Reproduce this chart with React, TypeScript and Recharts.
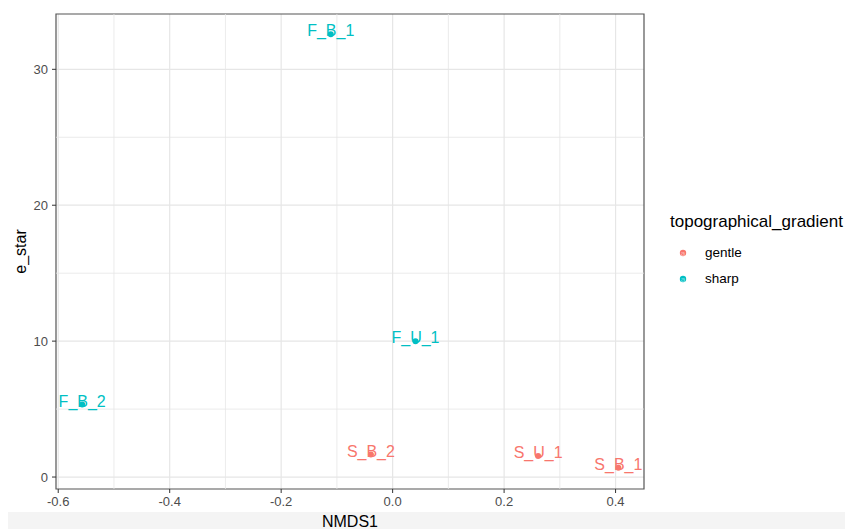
import { ScatterChart, Scatter, XAxis, YAxis, CartesianGrid, ReferenceLine, ReferenceArea } from 'recharts'

// ─── Data ─────────────────────────────────────────────────────────────────────

const GENTLE_LABELS = ['S_B_2', 'S_U_1', 'S_B_1']
const GENTLE_X      = [-0.039, 0.261, 0.405]
const GENTLE_Y      = [1.65, 1.55, 0.69]

const SHARP_LABELS  = ['F_B_1', 'F_U_1', 'F_B_2']
const SHARP_X       = [-0.111, 0.041, -0.557]
const SHARP_Y       = [32.58, 10.0, 5.33]

const X_TICKS       = [-0.6, -0.4, -0.2, 0, 0.2, 0.4]
const X_MINOR       = [-0.5, -0.3, -0.1, 0.1, 0.3]
const Y_TICKS       = [0, 10, 20, 30]
const Y_MINOR       = [5, 15, 25]

const X_DOMAIN: [number, number] = [-0.604, 0.451]
const Y_DOMAIN: [number, number] = [-0.88, 34.07]

const GENTLE_COLOR = '#F8766D'
const SHARP_COLOR  = '#00BFC4'
const GRID         = '#E6E6E6'
const FONT         = '"Liberation Sans", Arial, sans-serif'

const gentle = GENTLE_LABELS.map((label, i) => ({ label, x: GENTLE_X[i], y: GENTLE_Y[i] }))
const sharp  = SHARP_LABELS.map((label, i) => ({ label, x: SHARP_X[i], y: SHARP_Y[i] }))

const LEGEND_ITEMS = [
  { name: 'gentle', color: GENTLE_COLOR },
  { name: 'sharp', color: SHARP_COLOR },
]

// ─── Pieces ───────────────────────────────────────────────────────────────────

const makeShape = (color: string) => (props: any) => {
  const { cx, cy, payload } = props
  return (
    <g>
      <circle cx={cx} cy={cy} r={3} fill={color} />
      <text x={cx} y={cy + 2} textAnchor="middle" fill={color} fontSize={16} fontFamily={FONT}>
        {payload.label}
      </text>
    </g>
  )
}

const LegendBox = () => (
  <div style={{ position: 'absolute', left: 670, top: 212, fontFamily: FONT, color: '#000' }}>
    <div style={{ fontSize: 17, lineHeight: '20px', marginBottom: 7, whiteSpace: 'nowrap' }}>topographical_gradient</div>
    {LEGEND_ITEMS.map(item => (
      <div key={item.name} style={{ display: 'flex', alignItems: 'center', height: 26 }}>
        <svg width={35} height={20}>
          <circle cx={13} cy={11} r={3.2} fill={item.color} />
          <text x={13} y={13.5} textAnchor="middle" fontSize={8} fill="#ffffff" fillOpacity={0.5} fontFamily={FONT}>a</text>
        </svg>
        <span style={{ fontSize: 13.5 }}>{item.name}</span>
      </div>
    ))}
  </div>
)

const tickStyle = { fill: '#4D4D4D', fontSize: 13, fontFamily: FONT }

export default function App() {
  return (
    <div style={{ position: 'absolute', left: 0, top: 0, width: 845, height: 529, background: '#fff' }}>
      <div style={{ position: 'absolute', left: 8, top: 512, width: 837, height: 17, background: '#F4F4F4' }} />
      <div style={{ position: 'absolute', left: 0, top: 0 }}>
        <ScatterChart width={845} height={529} margin={{ top: 14, right: 201, left: 0, bottom: 0 }}>
          <CartesianGrid stroke={GRID} strokeWidth={1.2} horizontalValues={Y_TICKS} verticalValues={X_TICKS} />
          {X_MINOR.map(v => (
            <ReferenceLine key={'x' + v} x={v} stroke={GRID} strokeWidth={0.8} />
          ))}
          {Y_MINOR.map(v => (
            <ReferenceLine key={'y' + v} y={v} stroke={GRID} strokeWidth={0.8} />
          ))}
          <XAxis
            type="number"
            dataKey="x"
            domain={X_DOMAIN}
            ticks={X_TICKS}
            allowDataOverflow
            height={40}
            tick={tickStyle}
            tickFormatter={(v: number) => v.toFixed(1)}
            tickSize={4}
            tickMargin={4}
            stroke="#333333"
            axisLine={false}
            label={{ value: 'NMDS1', position: 'insideBottom', offset: 2, fill: '#000', fontSize: 16, fontFamily: FONT }}
          />
          <YAxis
            type="number"
            dataKey="y"
            domain={Y_DOMAIN}
            ticks={Y_TICKS}
            allowDataOverflow
            width={56}
            tick={tickStyle}
            tickSize={4}
            tickMargin={4}
            stroke="#333333"
            axisLine={false}
            label={({ viewBox }: any) => (
              <text
                x={20}
                y={viewBox.y + viewBox.height / 2}
                transform={`rotate(-90, 20, ${viewBox.y + viewBox.height / 2})`}
                textAnchor="middle"
                dominantBaseline="central"
                fontSize={16}
                fontFamily={FONT}
                fill="#000"
              >
                e_star
              </text>
            )}
          />
          <ReferenceArea
            x1={X_DOMAIN[0]}
            x2={X_DOMAIN[1]}
            y1={Y_DOMAIN[0]}
            y2={Y_DOMAIN[1]}
            fill="none"
            fillOpacity={0}
            stroke="#555555"
            strokeWidth={1.2}
            ifOverflow="visible"
          />
          <Scatter name="gentle" data={gentle} fill={GENTLE_COLOR} shape={makeShape(GENTLE_COLOR)} isAnimationActive={false} />
          <Scatter name="sharp" data={sharp} fill={SHARP_COLOR} shape={makeShape(SHARP_COLOR)} isAnimationActive={false} />
        </ScatterChart>
      </div>
      <LegendBox />
    </div>
  )
}
